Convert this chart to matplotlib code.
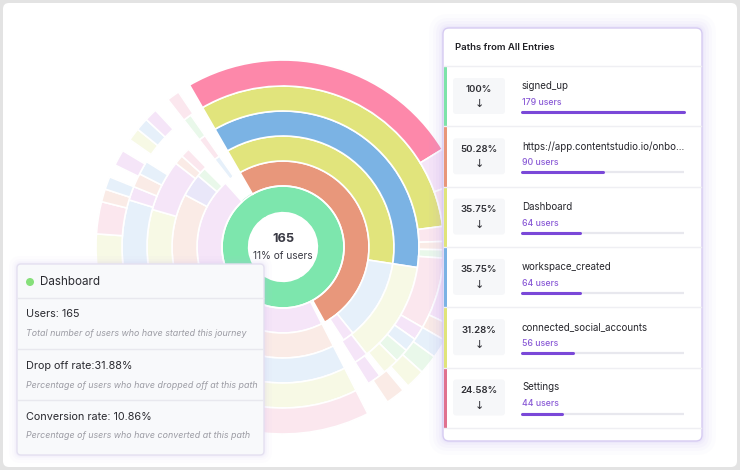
import numpy as np
import matplotlib
matplotlib.use("Agg")
import matplotlib.pyplot as plt
from matplotlib.patches import FancyBboxPatch, Circle

plt.rcParams['font.family'] = ['Inter', 'DejaVu Sans']

# ---- data ----
path_names = ["signed_up", "https://app.contentstudio.io/onbo...", "Dashboard",
              "workspace_created", "connected_social_accounts", "Settings"]
path_pcts = ["100%", "50.28%", "35.75%", "35.75%", "31.28%", "24.58%"]
path_users = [179, 90, 64, 64, 56, 44]
path_colors = ["#7de3a9", "#e8967a", "#e0e47a", "#7ab2e4", "#e0e47a", "#e0718f"]

center_users = 165
center_share = "11% of users"
tip_title = "Dashboard"
tip_users = 165
tip_dropoff = 31.88
tip_conversion = 10.86

# sunburst rings: share of the full circle (%), colour key (None = empty)
ring1 = [50.0, 50.0]
ring1_c = ["green", "green"]
ring2 = [50.28, 0.6, 45.8, 3.3]
ring2_c = ["orange", None, "plav", None]
ring3 = [35.75, 11.75, 1.67, 1.67, 40.28, 3.33, 1.39, 1.94, 0.83]
ring3_c = ["yellow", "pblue", "plav", None, "peach", "peri", "pgreen", None, "pblue"]
ring4 = [35.75, 12.03, 1.67, 1.39, 18.61, 18.33, 6.11, 1.11, 1.11, 1.67, 0.83]
ring4_c = ["blue", "pyellow", "plav", None, "pblue", "pyellow", "plav", "peach", "ppink", None, "ppink"]
ring5 = [31.28, 1.5, 0.83, 0.83, 7.22, 1.39, 1.39, 1.39, 1.67, 0.56, 1.39, 1.39,
         18.61, 18.61, 1.39, 1.39, 1.39, 5.56, 0.83]
ring5_c = ["yellow", "ppink", "peach", "pgreen", "ppink", "plav", "pblue", "pgreen", "pyellow", None,
           "plav", None, "pyellow", "pblue", "plav", "peach", "pblue", None, "pgreen"]
ring6 = [24.58, 3.19, 6.94, 5.56, 1.39, 1.67, 1.67, 1.67, 0.56, 1.67, 1.94, 18.61, 15.0,
         2.78, 1.11, 1.11, 1.11, 1.39, 1.11, 1.11, 1.11, 1.11, 1.39, 1.11]
ring6_c = ["pink", "plav", "ppink", "plav", "peach", "pblue", "pgreen", "pyellow", None, "peach", None,
           "ppink", "pyellow", "ppink", "peach", "pblue", None, "plav", None, "pyellow", "pblue",
           "plav", None, "ppink"]

palette = {
    "green": "#7de6ad", "orange": "#e8977b", "yellow": "#e1e47c", "blue": "#7bb3e4",
    "pink": "#fd88aa", "plav": "#f5e5f8", "peach": "#faebe6", "pblue": "#e6f0fa",
    "pyellow": "#f7f9e5", "ppink": "#fbe7ee", "peri": "#e9e7f9", "pgreen": "#e9f8ea",
}

W, H = 740, 470
fig = plt.figure(figsize=(W / 100, H / 100), dpi=100)
fig.patch.set_facecolor("#e3e3e3")

# background card
bg = fig.add_axes([0, 0, 1, 1])
bg.set_xlim(0, W)
bg.set_ylim(H, 0)
bg.axis("off")
bg.add_patch(FancyBboxPatch((3, 3), W - 6, H - 6, boxstyle="round,pad=0,rounding_size=6",
                            facecolor="white", edgecolor="none"))
bg.set_zorder(0)

# sunburst
cx, cy, R = 283, 247, 200
pax = fig.add_axes([(cx - R) / W, (H - cy - R) / H, 2 * R / W, 2 * R / H], projection="polar")
pax.set_zorder(1)
pax.patch.set_alpha(0)
pax.set_theta_offset(np.deg2rad(120))
pax.set_theta_direction(-1)
pax.set_ylim(0, R)
pax.axis("off")

edges = [36, 61, 86, 111, 136, 161, 187]
rings = [(ring1, ring1_c), (ring2, ring2_c), (ring3, ring3_c),
         (ring4, ring4_c), (ring5, ring5_c), (ring6, ring6_c)]
for i, (vals, cols) in enumerate(rings):
    vals = np.array(vals)
    starts = np.concatenate([[0], np.cumsum(vals)[:-1]])
    for s, v, c in zip(starts, vals, cols):
        if c is None:
            continue
        ec = palette[c] if i == 0 else "white"
        pax.bar(np.deg2rad(s * 3.6), edges[i + 1] - edges[i], width=np.deg2rad(v * 3.6),
                bottom=edges[i], align="edge", color=palette[c], edgecolor=ec, linewidth=1.2)
# white rim between centre ring and the rest
pax.plot(np.linspace(0, 2 * np.pi, 200), np.full(200, edges[1]), color="white", lw=1.2)

# overlay for UI
ov = fig.add_axes([0, 0, 1, 1])
ov.set_zorder(2)
ov.patch.set_alpha(0)
ov.set_xlim(0, W)
ov.set_ylim(H, 0)
ov.axis("off")

ov.text(cx, 239, str(center_users), ha="center", va="center", fontsize=9.2,
        fontweight="bold", color="#3a3a44")
ov.text(cx, 256, center_share, ha="center", va="center", fontsize=7.3, color="#3a3a44")

# right panel
px0, py0, px1, py1 = 443, 28, 702, 441
for k, a in zip([14, 10, 7, 4, 2], [0.03, 0.04, 0.05, 0.06, 0.08]):
    ov.add_patch(FancyBboxPatch((px0 - k, py0 - k), px1 - px0 + 2 * k, py1 - py0 + 2 * k,
                                boxstyle="round,pad=0,rounding_size=%d" % (6 + k),
                                facecolor="#b9a3f0", edgecolor="none", alpha=a))
ov.add_patch(FancyBboxPatch((px0, py0), px1 - px0, py1 - py0, boxstyle="round,pad=0,rounding_size=6",
                            facecolor="white", edgecolor="#d6cbf2", linewidth=1))
ov.text(455, 47, "Paths from All Entries", ha="left", va="center", fontsize=6.9,
        fontweight="semibold", color="#1f1f24")
row_h = 60.3
top = 66
ov.plot([px0 + 1, px1 - 1], [top, top], color="#efeff3", lw=1)
for i, (name, pct, users, col) in enumerate(zip(path_names, path_pcts, path_users, path_colors)):
    y0 = top + i * row_h
    ov.plot([px0 + 1, px1 - 1], [y0 + row_h, y0 + row_h], color="#efeff3", lw=1)
    ov.add_patch(plt.Rectangle((px0 + 1, y0), 3, row_h, facecolor=col, edgecolor="none"))
    ov.add_patch(FancyBboxPatch((453, y0 + 12), 52, 36, boxstyle="round,pad=0,rounding_size=3",
                                facecolor="#f6f7f9", edgecolor="none"))
    ov.text(479, y0 + 23, pct, ha="center", va="center", fontsize=6.9,
            fontweight="semibold", color="#2d2d33")
    ov.text(479, y0 + 38, "\u2193", ha="center", va="center", fontsize=8,
            color="#2d2d33", family=["DejaVu Sans"])
    ov.text(522, y0 + 20, name, ha="left", va="center", fontsize=7, color="#26262c")
    ov.text(522, y0 + 36.5, "%d users" % users, ha="left", va="center", fontsize=6.3,
            fontweight="medium", color="#8a5ad6")
    ov.plot([522, 684], [y0 + 46, y0 + 46], color="#e8e8ee", lw=1.6, solid_capstyle="butt")
    ov.plot([522, 522 + 162 * users / path_users[0]], [y0 + 46, y0 + 46], color="#7a48d8",
            lw=2.2, solid_capstyle="round")

# tooltip
tx0, ty0, tx1, ty1 = 17, 264, 264, 455
for k, a in zip([8, 5, 3, 1.5], [0.03, 0.04, 0.05, 0.07]):
    ov.add_patch(FancyBboxPatch((tx0 - k, ty0 - k), tx1 - tx0 + 2 * k, ty1 - ty0 + 2 * k,
                                boxstyle="round,pad=0,rounding_size=%g" % (4 + k),
                                facecolor="#c7b5f0", edgecolor="none", alpha=a))
ov.add_patch(FancyBboxPatch((tx0, ty0), tx1 - tx0, ty1 - ty0, boxstyle="round,pad=0,rounding_size=4",
                            facecolor="#f8f9fb", edgecolor="#e4e0f0", linewidth=1))
for yy in [298, 349, 400]:
    ov.plot([tx0 + 1, tx1 - 1], [yy, yy], color="#e8e8ee", lw=1)
ov.add_patch(Circle((30, 282), 4, facecolor="#86e07a", edgecolor="none"))
ov.text(40, 282, tip_title, ha="left", va="center", fontsize=8.4, color="#2a2a30")
ov.text(26, 314, "Users: %d" % tip_users, ha="left", va="center", fontsize=7.8, color="#2a2a30")
ov.text(26, 334, "Total number of users who have started this journey", ha="left", va="center",
        fontsize=6.4, style="italic", color="#9c9ca4")
ov.text(26, 366, "Drop off rate:%.2f%%" % tip_dropoff, ha="left", va="center", fontsize=7.8,
        color="#2a2a30")
ov.text(26, 386, "Percentage of users who have dropped off at this path", ha="left", va="center",
        fontsize=6.4, style="italic", color="#9c9ca4")
ov.text(26, 417, "Conversion rate: %.2f%%" % tip_conversion, ha="left", va="center", fontsize=7.8,
        color="#2a2a30")
ov.text(26, 436, "Percentage of users who have converted at this path", ha="left", va="center",
        fontsize=6.4, style="italic", color="#9c9ca4")

fig.savefig("out.png", dpi=100, facecolor=fig.get_facecolor())
